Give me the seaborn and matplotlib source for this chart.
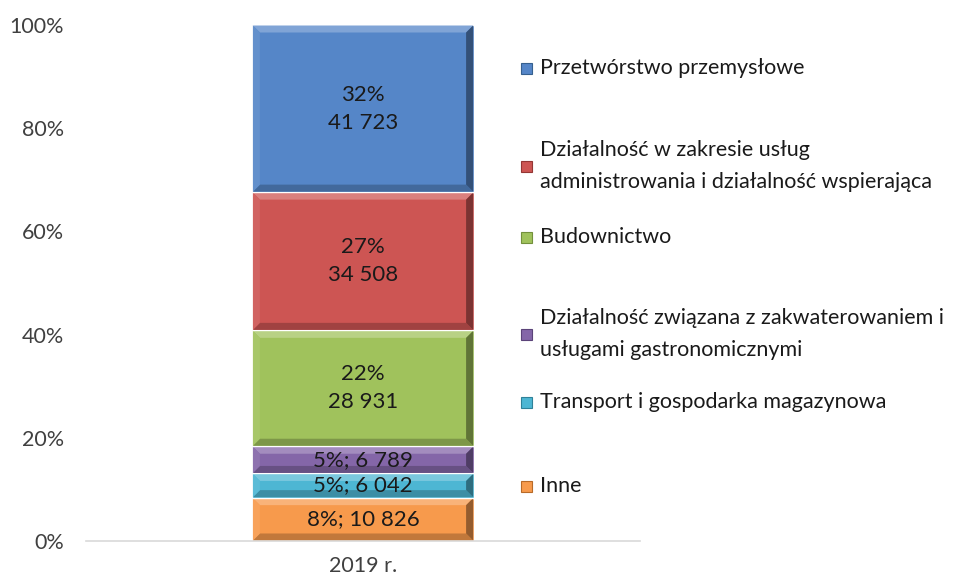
import matplotlib
matplotlib.use("Agg")
import matplotlib.pyplot as plt
import seaborn as sns
import numpy as np
from matplotlib.patches import Rectangle, Polygon
from matplotlib.colors import to_rgb

# Data
category = ["2019 r."]
series = ["Inne",
          "Transport i gospodarka magazynowa",
          "Działalność związana z zakwaterowaniem i\nusługami gastronomicznymi",
          "Budownictwo",
          "Działalność w zakresie usług\nadministrowania i działalność wspierająca",
          "Przetwórstwo przemysłowe"]
values = [10826, 6042, 6789, 28931, 34508, 41723]
colors = ["#F79A4C", "#4DB6D3", "#8466A8", "#A0C25C", "#CD5553", "#5586C8"]
edge_colors = ["#B86A28", "#2F8199", "#5B4379", "#73903C", "#943634", "#36608F"]
yticks = [0, 20, 40, 60, 80, 100]
ytick_labels = ["0%", "20%", "40%", "60%", "80%", "100%"]

sns.set_theme(style="white")
plt.rcParams['font.family'] = ['Lato', 'DejaVu Sans']

FS = 15.5
FL = 15.5
W, H = 954, 579
fig = plt.figure(figsize=(W / 100, H / 100), dpi=100)
ax = fig.add_axes([86 / W, (H - 541) / H, (640 - 86) / W, (541 - 25) / H])


def mix(c, other, t):
    a = np.array(to_rgb(c)); b = np.array(to_rgb(other))
    return tuple(a * (1 - t) + b * t)


total = sum(values)
pcts = [v / total * 100 for v in values]
bottom = 0.0
bar_w = 0.4
for i, (name, v, p, c, ec) in enumerate(zip(series, values, pcts, colors, edge_colors)):
    sns.barplot(x=category, y=[p], bottom=bottom, color=c, width=bar_w,
                edgecolor="white", linewidth=1.0, saturation=1, ax=ax)
    # bevel bands (derived from bar geometry)
    px = 1.0 / 554
    py = 100.0 / 516
    bx = 7 * px
    by = min(7 * py, p / 3)
    x0, x1 = -bar_w / 2 + 0.7 * px, bar_w / 2 - 0.7 * px
    y0, y1 = bottom + 0.5 * py, bottom + p - 0.5 * py
    top = [(x0, y1), (x1, y1), (x1 - bx, y1 - by), (x0 + bx, y1 - by)]
    bot = [(x0, y0), (x1, y0), (x1 - bx, y0 + by), (x0 + bx, y0 + by)]
    left = [(x0, y0), (x0, y1), (x0 + bx, y1 - by), (x0 + bx, y0 + by)]
    right = [(x1, y0), (x1, y1), (x1 - bx, y1 - by), (x1 - bx, y0 + by)]
    ax.add_patch(Polygon(top, closed=True, facecolor=mix(c, "white", 0.25), edgecolor="none"))
    ax.add_patch(Polygon(bot, closed=True, facecolor=mix(c, "black", 0.22), edgecolor="none"))
    ax.add_patch(Polygon(left, closed=True, facecolor=mix(c, "white", 0.08), edgecolor="none"))
    ax.add_patch(Polygon(right, closed=True, facecolor=mix(c, "black", 0.40), edgecolor="none"))
    num = f"{v:,}".replace(",", " ")
    pr = int(round(p))
    if p > 15:
        lab = f"{pr}%\n{num}"
    else:
        lab = f"{pr}%; {num}"
    ax.text(0, bottom + p / 2, lab, ha="center", va="center", fontsize=16,
            color="#1a1a1a", linespacing=1.5)
    bottom += p

ax.set_ylim(0, 100)
ax.set_xlim(-0.5, 0.5)
ax.set_yticks(yticks)
ax.set_yticklabels(ytick_labels, fontsize=FS, color="#404040")
ax.tick_params(axis="y", length=0, pad=16)
ax.tick_params(axis="x", length=0, pad=11, labelsize=FS, labelcolor="#404040")
for s in ["left", "right", "top"]:
    ax.spines[s].set_visible(False)
ax.spines["bottom"].set_color("#D9D9D9")
ax.spines["bottom"].set_linewidth(1.2)
ax.set_xlabel("")
ax.set_ylabel("")

# Legend (top to bottom), positioned as in the reference
leg_y = [68, 166, 237, 334, 402, 486]
for name, c, ec, yc in zip(series[::-1], colors[::-1], edge_colors[::-1], leg_y):
    fig.patches.append(Rectangle((521 / W, (H - yc - 6) / H), 11 / W, 11 / H,
                                 transform=fig.transFigure, facecolor=c,
                                 edgecolor=ec, linewidth=0.8))
    fig.text(540 / W, (H - yc) / H, name, ha="left", va="center", fontsize=FL,
             color="#1a1a1a", linespacing=1.7)

fig.savefig("out.png", dpi=100, facecolor="white")
